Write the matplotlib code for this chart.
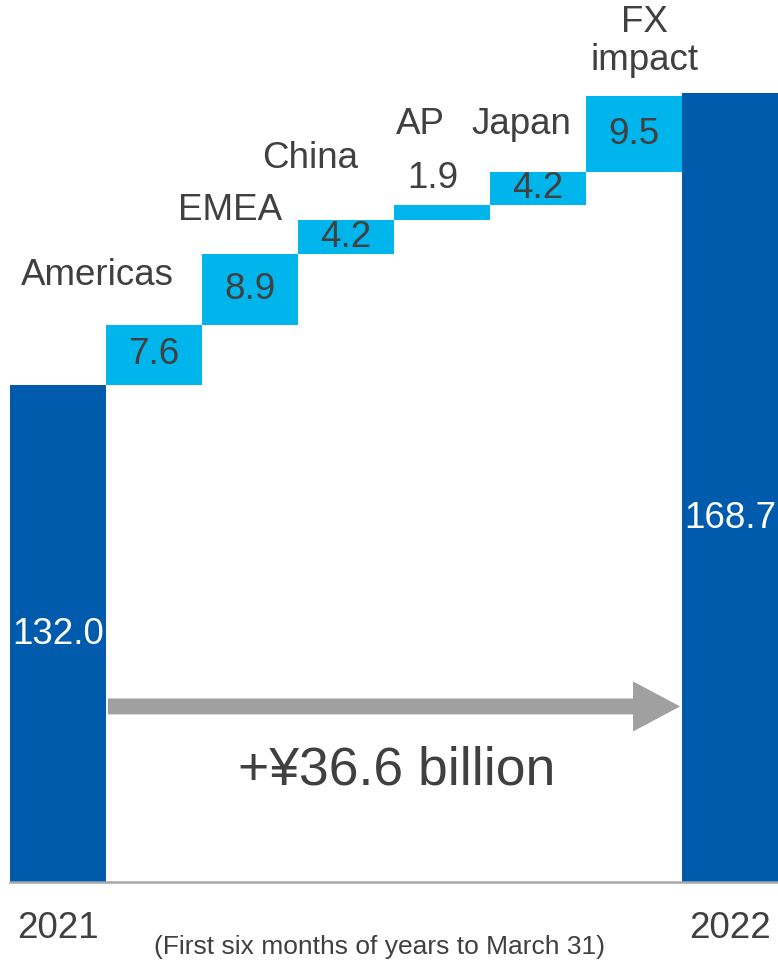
import matplotlib.pyplot as plt
from matplotlib.patches import FancyArrow

plt.rcParams['font.family'] = ['Liberation Sans', 'DejaVu Sans']

# sales, first half (¥ billion)
start_value = 132.0
end_value = 168.7
regions = ['Americas', 'EMEA', 'China', 'AP', 'Japan', 'FX\nimpact']
changes = [7.6, 8.9, 4.2, 1.9, 4.2, 9.5]
years = ['2021', '2022']
total_change = '+¥36.6 billion'
footnote = '(First six months of years to March 31)'

dark_blue = '#005BAC'
light_blue = '#00B5EC'
text_gray = '#404040'

fig = plt.figure(figsize=(7.78, 9.63), dpi=100)
ax = fig.add_axes([10 / 778, 81 / 963, 768 / 778, 882 / 963])

y0 = 69.53
ax.set_ylim(y0, 180.4)
ax.set_xlim(-0.5, 7.5)

# start and end totals
ax.bar([0, 7], [start_value - y0, end_value - y0], bottom=y0, width=1.0,
       color=dark_blue, linewidth=0)

# floating increments
bottoms = []
level = start_value
for c in changes:
    bottoms.append(level)
    level += c
xs = list(range(1, len(changes) + 1))
ax.bar(xs, changes, bottom=bottoms, width=1.0, color=light_blue, linewidth=0)

# value labels
for x, b, c in zip(xs, bottoms, changes):
    if c < 3:
        ax.text(x - 0.1, b + c + 3.3, f'{c:.1f}', ha='center', va='center',
                fontsize=26.5, color=text_gray)
    else:
        ax.text(x, b + c / 2, f'{c:.1f}', ha='center', va='center',
                fontsize=26.5, color=text_gray)
ax.text(0, 100.6, f'{start_value:.1f}', ha='center', va='center',
        fontsize=26.5, color='white')
ax.text(7, 115.2, f'{end_value:.1f}', ha='center', va='center',
        fontsize=26.5, color='white')

# region names sit up and to the left of their steps
name_dx = [-0.59, -0.21, -0.37, -0.22, -0.17, 0.11]
name_y = [145.8, 154.0, 160.5, 164.7, 164.7, 175.2]
for x, name, dx, ny in zip(xs, regions, name_dx, name_y):
    ax.text(x + dx, ny, name, ha='center', va='center', fontsize=26.5,
            color=text_gray, linespacing=1.1)

# overall change arrow
ax.add_patch(FancyArrow(0.52, 91.6, 5.96, 0, width=2.0, head_width=6.3,
                        head_length=0.49, length_includes_head=True,
                        color='#A0A0A0', linewidth=0))
ax.text(3.53, 83.6, total_change, ha='center', va='center', fontsize=38.5,
        color=text_gray)

ax.set_xticks([0, 7])
ax.set_xticklabels(years, fontsize=26.5, color=text_gray)
ax.tick_params(axis='x', length=0, pad=21)
ax.set_yticks([])
for side in ['top', 'left', 'right']:
    ax.spines[side].set_visible(False)
ax.spines['bottom'].set_color('#A6A6A6')
ax.spines['bottom'].set_linewidth(1.8)

fig.text(380 / 778, 16 / 963, footnote, ha='center', va='center',
         fontsize=19, color=text_gray)

fig.savefig('out.png', dpi=100)
